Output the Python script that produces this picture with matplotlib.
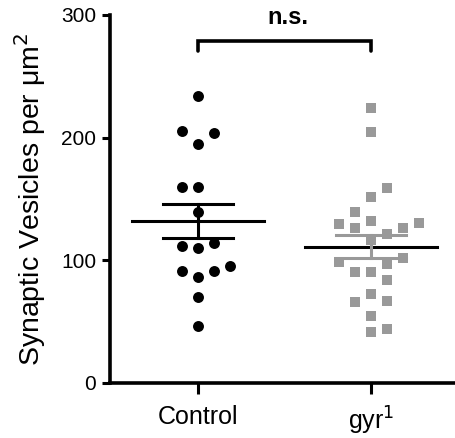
import numpy as np
import matplotlib
matplotlib.use("Agg")
import matplotlib.pyplot as plt

plt.rcParams['font.family'] = ['Liberation Sans', 'DejaVu Sans']

groups = ["Control", "gyr$^1$"]

# values, with their column offset in the scatter
control = [234, 205.4, 204, 194.5, 160, 160, 139.6, 111.9, 109.8, 114.3,
           91.3, 86.6, 91.3, 95.6, 69.8, 46.7]
control_col = [0, -1, 1, 0, -1, 0, 0, -1, 0, 1, -1, 0, 1, 2, 0, 0]

gyr = [224.4, 204.3, 158.7, 151.9, 139.4, 129.3, 126.6, 132, 126.6, 130.1,
       121.4, 116.5, 102.1, 98.9, 97, 90.7, 90.7, 83.9, 72.5, 66.3, 66.8,
       54.6, 41.3, 44]
gyr_col = [0, 0, 1, 0, -1, -2, -1, 0, 2, 3, 1, 0, 2, -2, 1, -1, 0, 1, 0,
           -1, 1, 0, 0, 1]

step = 0.0925

fig = plt.figure(figsize=(4.55, 4.38), dpi=100)
ax = fig.add_axes([110/455, 55/438, 345/455, 368/438])

ax.scatter(0 + np.array(control_col)*step, control, s=62, marker='o',
           color='black', linewidths=0, zorder=3)
ax.scatter(1 + np.array(gyr_col)*step, gyr, s=62, marker='s',
           color='#999999', linewidths=0, zorder=3)

for i, (vals, col) in enumerate([(control, 'black'), (gyr, '#999999')]):
    m = np.mean(vals)
    sem = np.std(vals, ddof=1)/np.sqrt(len(vals))
    ax.plot([i-0.38, i+0.38], [m, m], color='black', lw=2.2, zorder=4)
    ax.plot([i, i], [m-sem, m+sem], color=col, lw=2.2, zorder=4)
    ax.plot([i-0.2, i+0.2], [m+sem, m+sem], color=col, lw=2.2, zorder=4)
    ax.plot([i-0.2, i+0.2], [m-sem, m-sem], color=col, lw=2.2, zorder=4)

# significance bracket
ax.plot([0, 0, 1, 1], [271, 279, 279, 271], color='black', lw=2.6,
        clip_on=False, solid_capstyle='round', solid_joinstyle='miter')
ax.text(0.52, 298, "n.s.", ha='center', va='center', fontsize=17,
        fontweight='bold')

ax.set_xlim(-0.509, 1.486)
ax.set_ylim(0, 300)
ax.set_yticks([0, 100, 200, 300])
ax.set_xticks([0, 1])
ax.set_xticklabels(groups)
ax.set_ylabel("Synaptic Vesicles per μm$^2$", fontsize=20.5, labelpad=9)
ax.tick_params(width=2.2, length=6, direction='out')
ax.tick_params(axis='y', labelsize=15, pad=4)
ax.tick_params(axis='x', labelsize=18, length=8, pad=8)
for s in ['top', 'right']:
    ax.spines[s].set_visible(False)
for s in ['left', 'bottom']:
    ax.spines[s].set_linewidth(2.6)

fig.savefig("out.png", dpi=100)
